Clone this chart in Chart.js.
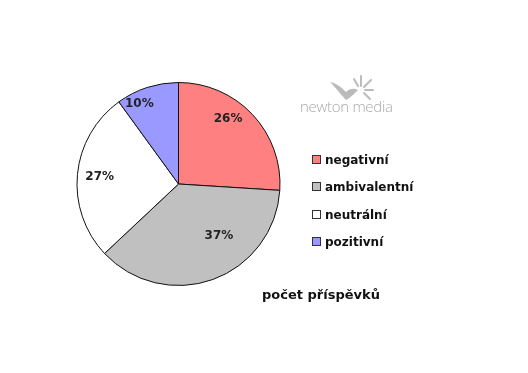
<!DOCTYPE html>
<html>
<head>
<meta charset="utf-8">
<script src="https://cdn.jsdelivr.net/npm/chart.js@4"></script>
<style>
  html, body { margin: 0; padding: 0; background: #fff; }
  #wrap { position: relative; width: 528px; height: 373px; }
  #chart { position: absolute; left: 0; top: 0; }
  #legend { position: absolute; left: 312px; top: 150px; font: bold 12px "DejaVu Sans", Verdana, sans-serif; color: #111; }
  #legend div { height: 27.3px; line-height: 20px; white-space: nowrap; }
  #legend span.box { display: inline-block; width: 7px; height: 7px; border: 1px solid #333; margin-right: 4px; vertical-align: 0px; }
  #title { position: absolute; left: 262px; top: 287px; font: bold 13px "DejaVu Sans", Verdana, sans-serif; color: #111; white-space: nowrap; }
  #logo { position: absolute; left: 300px; top: 96px; font: 300 15px "Open Sans", Lato, sans-serif; color: #aaa; letter-spacing: -0.3px; white-space: nowrap; }
  #bird { position: absolute; left: 328px; top: 74px; }
</style>
</head>
<body>
<div id="wrap">
  <canvas id="chart" width="528" height="373"></canvas>
  <svg id="bird" width="46" height="28" viewBox="0 0 46 28">
    <path d="M2 8 C10 10 14 14 18 18 C22 14 26 14 30 16 C26 20 22 24 18 26 C14 22 8 14 2 8 Z" fill="#bbb"/>
    <g stroke="#bbb" stroke-width="2" stroke-linecap="round">
      <line x1="33" y1="12" x2="33" y2="2"/>
      <line x1="36" y1="13" x2="43" y2="6"/>
      <line x1="37" y1="16" x2="45" y2="16"/>
      <line x1="36" y1="19" x2="42" y2="25"/>
      <line x1="30" y1="12" x2="26" y2="5"/>
    </g>
  </svg>
  <div id="logo">newton media</div>
  <div id="legend"></div>
  <div id="title">počet příspěvků</div>
</div>
<script>
// kategorie a hodnoty (v %)
const categories = ['negativní', 'ambivalentní', 'neutrální', 'pozitivní'];
const values = [26, 37, 27, 10];
const colors = ['#FF8080', '#C0C0C0', '#FFFFFF', '#9999FF'];

// umisteni popisku vuci vysece: [podil polomeru, posun uhlu ve stupnich]
const labelPlacement = [[0.81, -9.7], [0.65, -18], [0.78, 0], [0.88, -8]];

// legenda
const legendEl = document.getElementById('legend');
categories.forEach(function (c, i) {
    const row = document.createElement('div');
    row.innerHTML = '<span class="box" style="background:' + colors[i] + '"></span>' + c;
    legendEl.appendChild(row);
});

const pctLabels = {
    id: 'pctLabels',
    afterDatasetsDraw(chart) {
        const ctx = chart.ctx;
        const meta = chart.getDatasetMeta(0);
        ctx.save();
        ctx.font = 'bold 12px "DejaVu Sans", Verdana, sans-serif';
        ctx.fillStyle = '#222';
        ctx.textAlign = 'center';
        ctx.textBaseline = 'middle';
        meta.data.forEach(function (arc, i) {
            const p = arc.getProps(['x', 'y', 'startAngle', 'endAngle', 'outerRadius'], true);
            const a = (p.startAngle + p.endAngle) / 2 + labelPlacement[i][1] * Math.PI / 180;
            const r = p.outerRadius * labelPlacement[i][0];
            ctx.fillText(values[i] + '%', p.x + Math.cos(a) * r, p.y + Math.sin(a) * r);
        });
        ctx.restore();
    }
};

const ctx = document.getElementById('chart').getContext('2d');
new Chart(ctx, {
    type: 'pie',
    data: {
        labels: categories,
        datasets: [{
            data: values,
            backgroundColor: colors,
            borderColor: '#111',
            borderWidth: 1
        }]
    },
    options: {
        responsive: false,
        animation: false,
        layout: { padding: { left: 76, right: 247, top: 82, bottom: 87 } },
        plugins: { legend: { display: false }, tooltip: { enabled: false } }
    },
    plugins: [pctLabels]
});
</script>
</body>
</html>
